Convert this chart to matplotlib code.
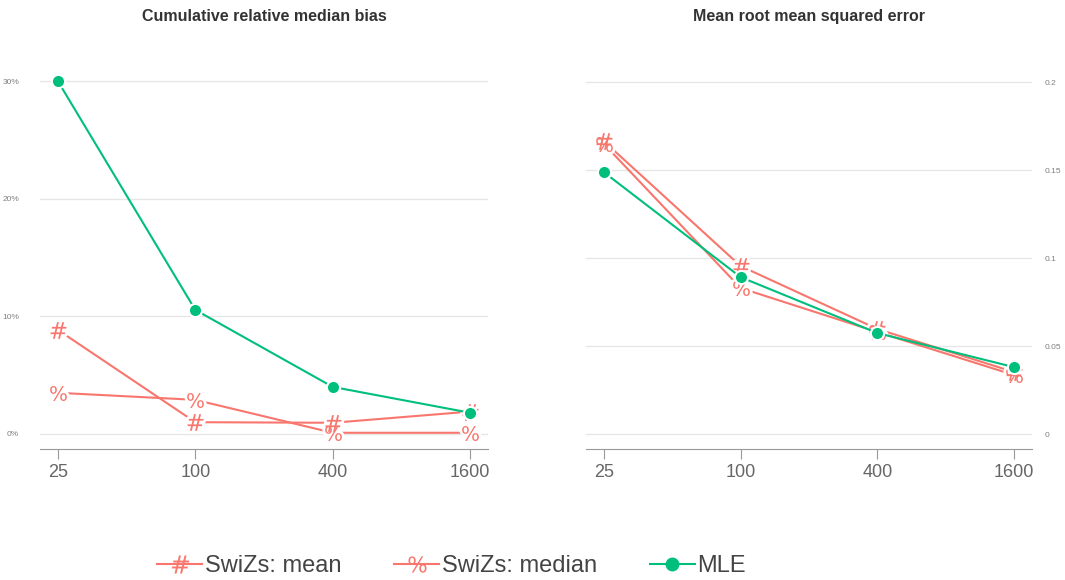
import matplotlib
matplotlib.use("Agg")
from matplotlib import pyplot as plt
from matplotlib.lines import Line2D

# data
sizes = ["25", "100", "400", "1600"]

bias_mean = [8.85, 1.0, 0.95, 1.9]
bias_median = [3.5, 2.9, 0.1, 0.1]
bias_mle = [30.0, 10.55, 4.0, 1.8]

rmse_mean = [0.1665, 0.0955, 0.0597, 0.0352]
rmse_median = [0.165, 0.083, 0.058, 0.0335]
rmse_mle = [0.1489, 0.0892, 0.0574, 0.038]

red = "#F8766D"
green = "#00BF7D"
grid = "#E6E6E6"
txt = "#666666"

plt.rcParams["font.family"] = ["Liberation Sans", "DejaVu Sans"]

fig = plt.figure(figsize=(10.65, 5.8), dpi=100)
W, H = 1065, 580

def px_axes(x0, x1, y0, y1):
    return fig.add_axes([x0 / W, 1 - y1 / H, (x1 - x0) / W, (y1 - y0) / H])

ax1 = px_axes(40, 488, 40, 449)
ax2 = px_axes(586, 1032, 40, 449)

xs = list(range(len(sizes)))

def series(ax, ys, color, marker, ms, z):
    ax.plot(xs, ys, color=color, lw=1.5, zorder=z)
    # white halo so the line stops short of the marker
    ax.plot(xs, ys, ls="none", marker=marker, markersize=ms, color="white",
            markeredgecolor="white", markeredgewidth=4, zorder=z + 0.1)
    ax.plot(xs, ys, ls="none", marker=marker, markersize=ms, color=color,
            markeredgewidth=0, zorder=z + 0.2)

def draw(ax, mean, median, mle):
    series(ax, mean, red, "$\\#$", 12, 3)
    series(ax, median, red, "$\\%$", 12, 3)
    ax.plot(xs, mle, color=green, lw=1.5, marker="o", markersize=9.5,
            markeredgecolor="white", markeredgewidth=1.5, zorder=5)
    ax.set_xticks(xs)
    ax.set_xticklabels(sizes, fontsize=13, color=txt)
    ax.set_xlim(-0.13, 3.13)
    for s in ["top", "right", "left"]:
        ax.spines[s].set_visible(False)
    ax.spines["bottom"].set_color("#999999")
    ax.tick_params(axis="x", length=7, color="#999999", pad=4)
    ax.tick_params(axis="y", length=0, labelsize=6, labelcolor="#808080")
    ax.grid(axis="y", color=grid, lw=1)
    ax.set_axisbelow(True)

draw(ax1, bias_mean, bias_median, bias_mle)
ax1.set_yticks([0, 10, 20, 30])
ax1.set_yticklabels(["0%", "10%", "20%", "30%"])
ax1.set_ylim(-1.28, 33.5)
ax1.tick_params(axis="y", pad=15)
ax1.set_title("Cumulative relative median bias", fontsize=11.5, fontweight="bold",
              color="#333333", pad=14)

draw(ax2, rmse_mean, rmse_median, rmse_mle)
ax2.yaxis.tick_right()
ax2.set_yticks([0, 0.05, 0.1, 0.15, 0.2])
ax2.set_yticklabels(["0", "0.05", "0.1", "0.15", "0.2"])
ax2.set_ylim(-0.0085, 0.224)
ax2.tick_params(axis="y", pad=9)
ax2.set_title("Mean root mean squared error", fontsize=11.5, fontweight="bold",
              color="#333333", pad=14)

handles = [
    Line2D([], [], color=red, lw=1.5, marker="$\\#$", markersize=13, markeredgewidth=0),
    Line2D([], [], color=red, lw=1.5, marker="$\\%$", markersize=13, markeredgewidth=0),
    Line2D([], [], color=green, lw=1.5, marker="o", markersize=9),
]
labels = ["SwiZs: mean", "SwiZs: median", "MLE"]
leg = fig.legend(handles, labels, loc="center", bbox_to_anchor=(0.424, 1 - 566 / H),
                 ncol=3, frameon=False, fontsize=17, handlelength=1.9,
                 handletextpad=0.1, columnspacing=2.25)
for t in leg.get_texts():
    t.set_color("#444444")

plt.savefig("out.png", dpi=100)
